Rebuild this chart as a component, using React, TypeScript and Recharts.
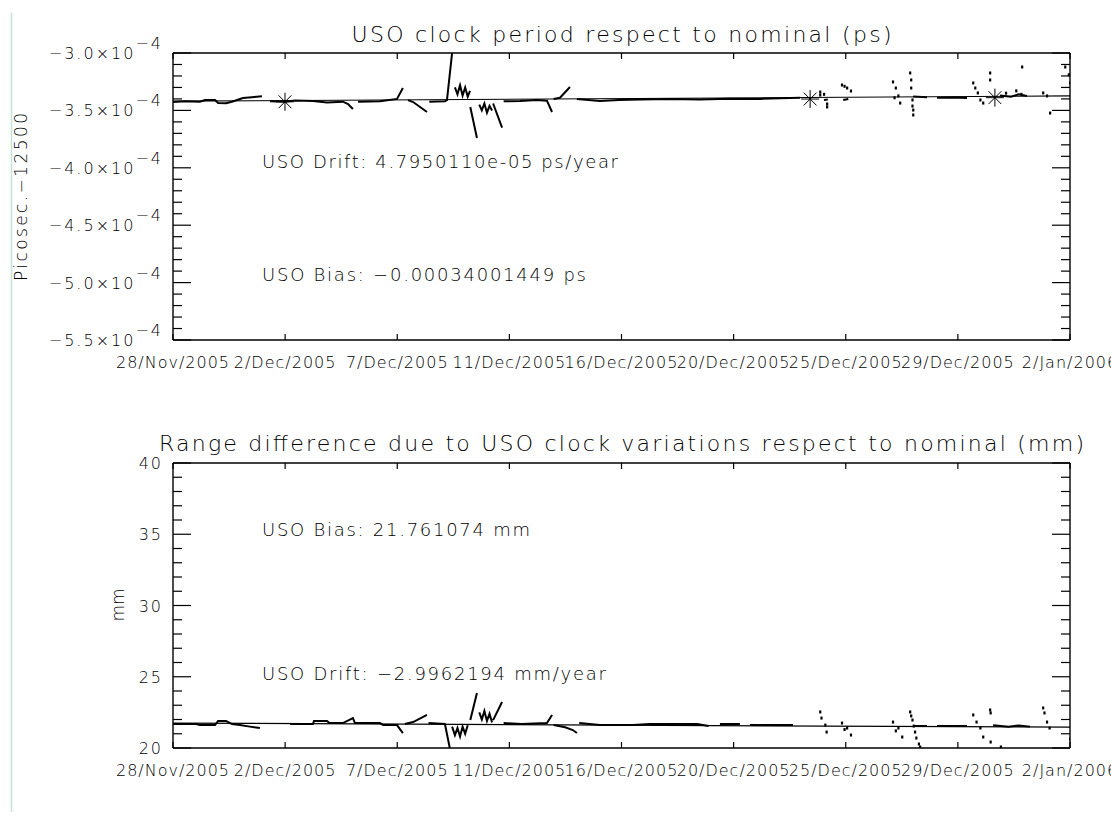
import React from 'react';
import { ComposedChart, Line, Scatter, XAxis, YAxis } from 'recharts';

// x axis: days since the left edge (28/Nov/2005)
const dateTicks = [0, 4.375, 8.75, 13.125, 17.5, 21.875, 26.25, 30.625, 35];
const dateLabels = [
    '28/Nov/2005', '2/Dec/2005', '7/Dec/2005', '11/Dec/2005', '16/Dec/2005',
    '20/Dec/2005', '25/Dec/2005', '29/Dec/2005', '2/Jan/2006',
];

// top panel, values in units of 1e-4 ps
const periodTicks = [
    -5.5, -5.4, -5.3, -5.2, -5.1, -5.0, -4.9, -4.8, -4.7, -4.6, -4.5, -4.4, -4.3,
    -4.2, -4.1, -4.0, -3.9, -3.8, -3.7, -3.6, -3.5, -3.4, -3.3, -3.2, -3.1, -3.0,
];
const periodDays = [
    0, 0.47, 1.05, 1.25, 1.64, 1.76, 2.07, 2.3, 2.73, 3.08, 3.47, 3.6,
    3.79, 4.37, 4.76, 5.46, 6.01, 6.63, 6.83, 7.02, 7.1,
    7.22, 8.08, 8.74, 8.97, 9.05,
    9.17, 9.37, 9.64, 9.91, 9.95,
    10.0, 10.61, 10.69, 10.89, 10.95,
    11.0, 11.1, 11.2, 11.3, 11.4, 11.5, 11.59, 11.595,
    11.6, 11.86, 11.9,
    11.95, 12.05, 12.15, 12.25, 12.35, 12.45, 12.47,
    12.49, 12.84, 12.87,
    12.9, 13.54, 14.2, 14.59, 14.79, 14.82,
    14.85, 15.1, 15.49, 15.6,
    15.76, 16.66, 17.4, 18.22, 19.4, 20.56, 21.7, 22.9, 23.7, 24.47, 24.6,
    25.4, 25.55, 25.7,
    26.15, 26.35, 26.5,
    28.88, 29.42, 29.6,
    29.81, 30.4, 30.98, 31.1,
    32.27, 32.7, 33.0, 33.32,
];
const periodVals = [
    -3.427, -3.42, -3.424, -3.409, -3.41, -3.436, -3.437, -3.424, -3.392, -3.385, -3.376, null,
    -3.42, -3.425, -3.414, -3.418, -3.432, -3.424, -3.445, -3.488, null,
    -3.424, -3.42, -3.4, -3.305, null,
    -3.41, -3.427, -3.47, -3.514, null,
    -3.425, -3.42, -3.41, -3.0, null,
    -3.3, -3.36, -3.28, -3.37, -3.3, -3.38, -3.33, null,
    -3.47, -3.74, null,
    -3.45, -3.5, -3.44, -3.52, -3.46, -3.5, null,
    -3.44, -3.65, null,
    -3.42, -3.418, -3.41, -3.415, -3.514, null,
    -3.4, -3.39, -3.296, null,
    -3.4, -3.418, -3.41, -3.405, -3.4, -3.405, -3.398, -3.4, -3.395, -3.39, null,
    -3.41, -3.405, null,
    -3.41, -3.4, null,
    -3.38, -3.385, null,
    -3.39, -3.388, -3.392, null,
    -3.37, -3.38, -3.36, -3.375,
];
const periodDotDays = [
    25.25, 25.25, 25.52, 25.52, 25.4, 26.1, 26.3, 26.45, 26.2,
    28.09, 28.2, 28.3, 28.37, 28.15, 28.76, 28.8, 28.8, 28.85, 28.85, 28.88, 28.88,
    31.22, 31.3, 31.4, 31.5, 31.61, 31.88, 31.88, 32.5, 32.9, 33.1, 33.13,
    33.95, 34.1, 34.22, 34.81, 34.95, 35.0,
];
const periodDotVals = [
    -3.34, -3.366, -3.444, -3.47, -3.36, -3.279, -3.305, -3.331, -3.29,
    -3.252, -3.305, -3.374, -3.436, -3.39, -3.174, -3.235, -3.305, -3.409, -3.462, -3.497, -3.54,
    -3.261, -3.305, -3.348, -3.409, -3.436, -3.174, -3.235, -3.35, -3.33, -3.36, -3.122,
    -3.348, -3.374, -3.523, -3.122, -3.19, -3.261,
];
const starDays = [4.37, 24.86, 32.07];
const starVals = [-3.425, -3.401, -3.389];
const fitDays = [0, 35];
const periodFit = [-3.42, -3.374];

// bottom panel, mm
const rangeTicks = [20, 21, 22, 23, 24, 25, 26, 27, 28, 29, 30, 31, 32, 33, 34, 35, 36, 37, 38, 39, 40];
const rangeDays = [
    0, 0.47, 0.9, 1.05, 1.64, 1.76, 2.07, 2.3, 2.61, 3.0, 3.39, 3.5,
    4.57, 5.46, 5.5, 6.01, 6.1, 6.63, 7.02, 7.1, 8.08, 8.2, 8.74, 8.97, 9.0,
    9.05, 9.37, 9.91, 9.94,
    9.97, 10.61, 10.8, 10.85,
    10.89, 11.0, 11.1, 11.2, 11.3, 11.4, 11.5, 11.55,
    11.6, 11.86, 11.9,
    11.95, 12.05, 12.15, 12.25, 12.35, 12.45, 12.47,
    12.49, 12.84, 12.87,
    12.9, 13.6, 14.59, 14.79, 14.82,
    14.85, 15.3, 15.6, 15.76, 15.8,
    15.85, 16.66, 17.95, 18.6, 20.45, 20.9, 21.2,
    21.34, 22.12, 22.3,
    22.51, 24.19, 24.3,
    28.88, 29.42, 29.6,
    29.81, 30.98, 31.1,
    32.0, 32.6, 33.0, 33.44,
];
const rangeVals = [
    21.68, 21.68, 21.68, 21.61, 21.61, 21.9, 21.9, 21.68, 21.61, 21.5, 21.4, null,
    21.68, 21.68, 21.9, 21.9, 21.75, 21.75, 22.1, 21.75, 21.75, 21.61, 21.61, 21.05, null,
    21.68, 21.82, 22.32, null,
    21.75, 21.68, 20.0, null,
    21.5, 20.9, 21.4, 20.8, 21.5, 21.0, 21.6, null,
    21.96, 23.86, null,
    22.5, 22.0, 22.6, 21.9, 22.4, 21.8, null,
    21.96, 23.23, null,
    21.75, 21.68, 21.75, 22.32, null,
    21.61, 21.45, 21.26, 21.05, null,
    21.75, 21.61, 21.61, 21.68, 21.68, 21.54, null,
    21.68, 21.68, null,
    21.61, 21.61, null,
    21.54, 21.54, null,
    21.54, 21.54, null,
    21.6, 21.5, 21.58, 21.5,
];
const rangeDotDays = [
    25.25, 25.3, 25.45, 25.5, 26.1, 26.3, 26.45, 26.2, 28.09, 28.3, 28.45, 28.2,
    28.76, 28.8, 28.85, 28.9, 28.95, 29.0, 29.1, 29.15,
    31.22, 31.35, 31.5, 31.61, 31.88, 31.9, 31.9, 32.3,
    33.95, 34.0, 34.1, 34.2, 35.0,
];
const rangeDotVals = [
    22.53, 22.1, 21.61, 21.12, 21.75, 21.4, 20.91, 21.3, 21.82, 21.4, 20.77, 21.2,
    22.53, 22.25, 21.96, 21.54, 21.12, 20.7, 20.28, 20.07,
    22.32, 21.82, 21.4, 20.77, 22.67, 22.46, 20.42, 20.07,
    22.81, 22.46, 21.82, 21.4, 20.63,
];
const rangeFit = [21.75, 21.46];

const FONT = '"DejaVu Sans", sans-serif';
const WEIGHT = 200;
const toRows = (days: number[], vals: (number | null)[]) => days.map((d, i) => ({ d, v: vals[i] }));

const isMajor = (v: number, step: number) => Math.abs(v / step - Math.round(v / step)) < 1e-6;

function BottomTick(props: any) {
    const { x, y, payload } = props;
    const label = dateLabels[dateTicks.indexOf(payload.value)];
    return (
        <g>
            <line x1={x} y1={y} x2={x} y2={y - 6} stroke="#000" strokeWidth={1.2} />
            <text x={x} y={y + 28} textAnchor="middle" fontFamily={FONT} fontWeight={WEIGHT} fontSize={16}
                letterSpacing={1} fill="#000">
                {label}
            </text>
        </g>
    );
}

function TopTick(props: any) {
    const { x, y } = props;
    return <line x1={x} y1={y} x2={x} y2={y + 6} stroke="#000" strokeWidth={1.2} />;
}

function makeLeftTick(step: number, fmt: (v: number) => React.ReactNode) {
    return (props: any) => {
        const { x, y, payload } = props;
        const major = isMajor(payload.value, step);
        return (
            <g>
                <line x1={x} y1={y} x2={x + (major ? 18 : 9)} y2={y} stroke="#000" strokeWidth={1.2} />
                {major && (
                    <text x={x - 10} y={y + 6} textAnchor="end" fontFamily={FONT} fontWeight={WEIGHT} fontSize={16}
                        letterSpacing={2} fill="#000">
                        {fmt(payload.value)}
                    </text>
                )}
            </g>
        );
    };
}

function makeRightTick(step: number) {
    return (props: any) => {
        const { x, y, payload } = props;
        const major = isMajor(payload.value, step);
        return <line x1={x} y1={y} x2={x - (major ? 18 : 9)} y2={y} stroke="#000" strokeWidth={1.2} />;
    };
}

const periodLabel = (v: number) => (
    <>
        {'\u2212' + Math.abs(v).toFixed(1) + '\u00d710'}
        <tspan dy={-10}>{'\u22124'}</tspan>
    </>
);
const rangeLabel = (v: number) => String(v);

const Star = (p: any) => {
    const { cx, cy } = p;
    const r = 9;
    const s = 6.4;
    return (
        <g stroke="#000" strokeWidth={1}>
            <line x1={cx - r} y1={cy} x2={cx + r} y2={cy} />
            <line x1={cx} y1={cy - r} x2={cx} y2={cy + r} />
            <line x1={cx - s} y1={cy - s} x2={cx + s} y2={cy + s} />
            <line x1={cx - s} y1={cy + s} x2={cx + s} y2={cy - s} />
        </g>
    );
};

const Dot = (p: any) => <rect x={p.cx - 1} y={p.cy - 1.5} width={2.2} height={3} fill="#000" />;

const axisLine = { stroke: '#000', strokeWidth: 1.4 };

interface PanelProps {
    top: number;
    height: number;
    domain: [number, number];
    yTicks: number[];
    step: number;
    fmt: (v: number) => React.ReactNode;
    line: { d: number; v: number | null }[];
    fit: { d: number; v: number | null }[];
    dots: { d: number; v: number | null }[];
    stars?: { d: number; v: number | null }[];
}

function Panel({ top, height, domain, yTicks, step, fmt, line, fit, dots, stars }: PanelProps) {
    return (
        <div style={{ position: 'absolute', left: 0, top }}>
            <ComposedChart width={1111} height={height} margin={{ top: 43, right: 0, bottom: 0, left: 0 }}>
                <XAxis xAxisId="b" dataKey="d" type="number" domain={[0, 35]} allowDataOverflow ticks={dateTicks}
                    interval={0} height={40} tickSize={0} tickMargin={0} tickLine={false} axisLine={axisLine} tick={BottomTick} />
                <XAxis xAxisId="t" dataKey="d" type="number" orientation="top" domain={[0, 35]} allowDataOverflow ticks={dateTicks}
                    interval={0} height={10} tickSize={0} tickMargin={0} tickLine={false} axisLine={axisLine} tick={TopTick} />
                <YAxis yAxisId="l" dataKey="v" type="number" domain={domain} allowDataOverflow ticks={yTicks}
                    interval={0} width={173} tickSize={0} tickMargin={0} tickLine={false} axisLine={axisLine} tick={makeLeftTick(step, fmt)} />
                <YAxis yAxisId="r" dataKey="v" type="number" orientation="right" domain={domain} allowDataOverflow ticks={yTicks}
                    interval={0} width={41} tickSize={0} tickMargin={0} tickLine={false} axisLine={axisLine} tick={makeRightTick(step)} />
                <Line xAxisId="t" yAxisId="r" data={fit} dataKey="v" type="linear" stroke="#000" strokeWidth={1.2}
                    dot={false} isAnimationActive={false} />
                <Line xAxisId="b" yAxisId="l" data={line} dataKey="v" type="linear" stroke="#000" strokeWidth={2}
                    dot={false} connectNulls={false} isAnimationActive={false} />
                <Scatter xAxisId="b" yAxisId="l" data={dots} shape={Dot} isAnimationActive={false} />
                {stars && <Scatter xAxisId="b" yAxisId="l" data={stars} shape={Star} isAnimationActive={false} />}
            </ComposedChart>
        </div>
    );
}

export default function App() {
    const txt = { fontFamily: FONT, fontWeight: WEIGHT, fill: '#000' };
    return (
        <div style={{ position: 'absolute', left: 0, top: 0, width: 1111, height: 817, background: '#fff', overflow: 'hidden' }}>
            <Panel top={0} height={380} domain={[-5.5, -3.0]} yTicks={periodTicks} step={0.5} fmt={periodLabel}
                line={toRows(periodDays, periodVals)} fit={toRows(fitDays, periodFit)}
                dots={toRows(periodDotDays, periodDotVals)} stars={toRows(starDays, starVals)} />
            <Panel top={410} height={378} domain={[20, 40]} yTicks={rangeTicks} step={5} fmt={rangeLabel}
                line={toRows(rangeDays, rangeVals)} fit={toRows(fitDays, rangeFit)}
                dots={toRows(rangeDotDays, rangeDotVals)} />
            <svg width={1111} height={817} style={{ position: 'absolute', left: 0, top: 0, pointerEvents: 'none' }}>
                <line x1={11.5} y1={13} x2={11.5} y2={812} stroke="#c4e4d8" strokeWidth={1.5} />
                <text {...txt} x={621.5} y={42} fontSize={22} textAnchor="middle" textLength={540} lengthAdjust="spacing">
                    USO clock period respect to nominal (ps)
                </text>
                <text {...txt} x={262} y={168} fontSize={18} textLength={356} lengthAdjust="spacing">
                    USO Drift: 4.7950110e-05 ps/year
                </text>
                <text {...txt} x={262} y={281} fontSize={18} textLength={324} lengthAdjust="spacing">
                    {'USO Bias: \u22120.00034001449 ps'}
                </text>
                <text {...txt} x={0} y={0} fontSize={17} textAnchor="middle" textLength={168} lengthAdjust="spacing"
                    transform="translate(27 197) rotate(-90)">
                    {'Picosec.\u221212500'}
                </text>
                <text {...txt} x={621.5} y={451} fontSize={22} textAnchor="middle" textLength={925} lengthAdjust="spacing">
                    Range difference due to USO clock variations respect to nominal (mm)
                </text>
                <text {...txt} x={262} y={536} fontSize={18} textLength={268} lengthAdjust="spacing">
                    USO Bias: 21.761074 mm
                </text>
                <text {...txt} x={262} y={680} fontSize={18} textLength={344} lengthAdjust="spacing">
                    {'USO Drift: \u22122.9962194 mm/year'}
                </text>
                <text {...txt} x={0} y={0} fontSize={17} textAnchor="middle" transform="translate(124 605) rotate(-90)">
                    mm
                </text>
            </svg>
        </div>
    );
}
